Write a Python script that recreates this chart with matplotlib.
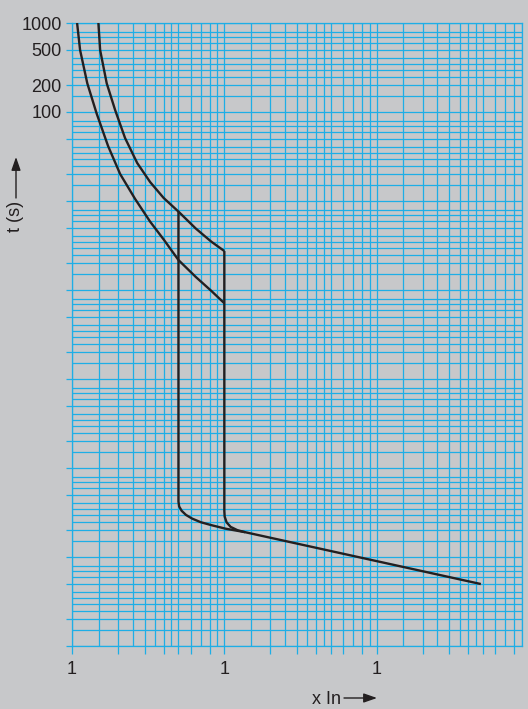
"""Time-current tripping curves on a log-log grid."""

import matplotlib

matplotlib.use("Agg")
import matplotlib.pyplot as plt

# thermal band, lower (fast) curve: x In, t (s)
lo_x = [1.08, 1.13, 1.26, 1.45, 1.725, 2.07, 2.60, 3.26, 4.0, 5.0, 6.5, 8.2, 10.0]
lo_y = [1000, 497, 210, 96.6, 41.5, 20.1, 10.5, 5.85, 3.69, 2.17, 1.4, 0.98, 0.71]

# thermal band, upper (slow) curve
hi_x = [1.49, 1.53, 1.69, 1.92, 2.23, 2.68, 3.26, 4.0, 5.0, 6.5, 8.2, 10.0]
hi_y = [1000, 497, 210, 105, 51, 26.7, 16.3, 10.8, 7.6, 4.9, 3.5, 2.74]

# magnetic release, low setting (drops at 5 x In)
mag5_x = [5.0, 5.0, 5.05, 5.25, 5.6, 6.15, 7.0, 8.3, 10.2, 13.7]
mag5_y = [7.6, 0.0042, 0.0037, 0.0033, 0.00297, 0.00270, 0.00246, 0.00227, 0.00208, 0.0019]

# magnetic release, high setting (drops at 10 x In) and the tail
mag10_x = [10.0, 10.0, 10.05, 10.35, 11.0, 12.2, 13.7, 483]
mag10_y = [2.74, 0.0033, 0.00285, 0.00245, 0.00218, 0.00200, 0.0019, 0.000497]

x_grid_mult = [1, 1.5, 2, 2.5, 3, 3.5, 4, 4.5, 5, 6, 7, 8, 9]
y_grid_mult = [1, 1.5, 2, 2.5, 3, 3.5, 4, 5, 6, 7, 8]
x_tick_mult = [1, 2, 3, 4, 5, 6, 8]
y_tick_mult = [1, 2, 5]
x_decades = [1, 10, 100]
y_decades = [1e-4, 1e-3, 1e-2, 1e-1, 1, 10, 100, 1000]
y_labels = {1000: "1000", 500: "500", 200: "200", 100: "100"}

BG = "#c7c8ca"
BLUE = "#1eaee6"
INK = "#231f20"

XMIN, XMAX = 1, 900
YMIN, YMAX = 1e-4, 1000

fig = plt.figure(figsize=(5.28, 7.09), dpi=100, facecolor=BG)
ax = fig.add_axes([72 / 528, 1 - 646 / 709, 450 / 528, 623 / 709])
ax.set_facecolor(BG)
ax.set_xscale("log")
ax.set_yscale("log")
ax.set_xlim(XMIN, XMAX)
ax.set_ylim(YMIN, YMAX)

# grid
for d in x_decades:
    for m in x_grid_mult:
        v = d * m
        if XMIN <= v <= XMAX:
            ax.axvline(v, color=BLUE, lw=0.9, zorder=1)
for d in y_decades:
    for m in y_grid_mult:
        v = d * m
        if YMIN <= v <= YMAX * 1.001:
            ax.axhline(v, color=BLUE, lw=0.9, zorder=1)

for s in ax.spines.values():
    s.set_color(BLUE)
    s.set_linewidth(0.9)

# ticks
xt = [d * m for d in x_decades for m in x_tick_mult if d * m <= XMAX]
ax.set_xticks(xt)
ax.set_xticklabels(["1" if v in x_decades else "" for v in xt])
ax.xaxis.set_minor_locator(matplotlib.ticker.NullLocator())

yt = [d * m for d in y_decades for m in y_tick_mult if d * m <= YMAX * 1.001]
ax.set_yticks(yt)
ax.set_yticklabels([y_labels.get(round(v), "") if v >= 1 else "" for v in yt])
ax.yaxis.set_minor_locator(matplotlib.ticker.NullLocator())

ax.tick_params(axis="x", length=5.5, width=0.9, color=BLUE, pad=5,
               labelsize=13, labelcolor=INK)
ax.tick_params(axis="y", length=4.5, width=0.9, color=BLUE, pad=3,
               labelsize=13, labelcolor=INK)
for lab in ax.get_xticklabels() + ax.get_yticklabels():
    lab.set_family("Liberation Sans")

# curves
kw = dict(color=INK, lw=1.7, solid_capstyle="butt", solid_joinstyle="round",
          zorder=3, clip_on=True)
ax.plot(lo_x, lo_y, **kw)
ax.plot(hi_x, hi_y, **kw)
ax.plot(mag5_x, mag5_y, **kw)
ax.plot(mag10_x, mag10_y, **kw)

# axis names with arrows
arrow = "-|>,head_length=0.8,head_width=0.28"
fig.text(16 / 528, 1 - 216 / 709, "t (s)", rotation=90, ha="center",
         va="center", fontsize=13, color=INK, family="Liberation Sans")
fig.add_artist(matplotlib.patches.FancyArrowPatch(
    (16 / 528, 1 - 198 / 709), (16 / 528, 1 - 157 / 709),
    transform=fig.transFigure, arrowstyle=arrow, color=INK, lw=1.0,
    mutation_scale=10, shrinkA=0, shrinkB=0))

fig.text(326 / 528, 1 - 700 / 709, "x In", ha="center", va="center",
         fontsize=13, color=INK, family="Liberation Sans")
fig.add_artist(matplotlib.patches.FancyArrowPatch(
    (344 / 528, 1 - 698 / 709), (377 / 528, 1 - 698 / 709),
    transform=fig.transFigure, arrowstyle=arrow, color=INK, lw=1.0,
    mutation_scale=10, shrinkA=0, shrinkB=0))

fig.savefig("out.png", dpi=100, facecolor=BG)
